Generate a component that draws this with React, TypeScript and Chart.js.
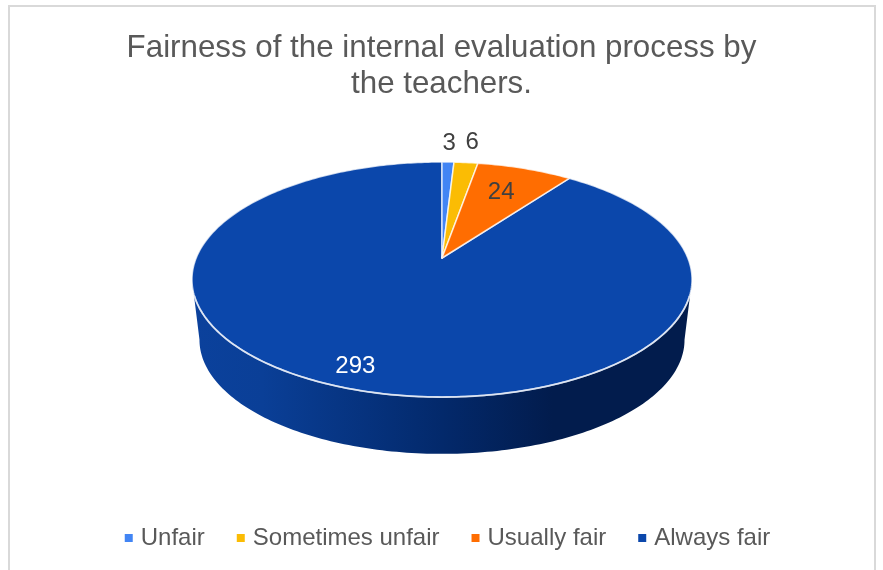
import React, { useEffect, useRef } from "react";
import { Chart, registerables } from "chart.js";

Chart.register(...registerables);

const categories = ["Unfair", "Sometimes unfair", "Usually fair", "Always fair"];
const responses = [3, 6, 24, 293];
const sliceColors = ["#4285f4", "#fbbc04", "#ff6d01", "#0b47ab"];
const labelColors = ["#404040", "#404040", "#404040", "#ffffff"];
const titleLines = ["Fairness of the internal evaluation process by", "the teachers."];

// Perspective pie geometry
const CX = 442;
const CY = 258;
const RX = 245.8;
const RY = 113.6;
const K = 0.183;
const WALL_SCALE = 0.97;
const WALL_DROP = 61;
const RIM_START = 0.32;
const labelRadius = [1.25, 1.27, 0.72, 0.85];
const labelShift = [[0, 1], [1, 1], [-3, 1], [-10, 1]];

function project(angle: number, r = 1) {
  const u = Math.cos(angle) * r;
  const v = Math.sin(angle) * r;
  const s = 1 / (1 - K * v);
  return { x: CX + s * RX * u, y: CY + s * RY * v };
}
function wallPoint(angle: number) {
  const p = project(angle);
  return { x: CX + (p.x - CX) * WALL_SCALE, y: CY + (p.y - CY) * WALL_SCALE + WALL_DROP };
}

const pie3d = {
  id: "pie3d",
  afterLayout(chart: any) {
    // legend sits a little right of the chart's centre line
    chart.legend.left += 8;
    chart.legend.right += 8;
  },
  beforeDraw(chart: any) {
    const { ctx } = chart;
    ctx.save();
    ctx.strokeStyle = "#d9d9d9";
    ctx.lineWidth = 2;
    ctx.beginPath();
    ctx.moveTo(9, 580);
    ctx.lineTo(9, 6);
    ctx.lineTo(875, 6);
    ctx.lineTo(875, 580);
    ctx.stroke();
    ctx.restore();
  },
  beforeDatasetDraw(chart: any, args: any) {
    const { ctx } = chart;
    const meta = args.meta;
    const a0 = Math.asin(K);
    const a1 = Math.PI - a0;
    const steps = 160;

    // extruded side wall
    ctx.save();
    const g = ctx.createLinearGradient(192, 0, 692, 0);
    g.addColorStop(0, "#0b419c");
    g.addColorStop(0.14, "#0a3f97");
    g.addColorStop(0.5, "#03296b");
    g.addColorStop(0.72, "#021c4d");
    g.addColorStop(1, "#021c4d");
    ctx.fillStyle = g;
    ctx.beginPath();
    for (let i = 0; i <= steps; i++) {
      const p = project(a0 + ((a1 - a0) * i) / steps);
      if (i === 0) ctx.moveTo(p.x, p.y);
      else ctx.lineTo(p.x, p.y);
    }
    for (let i = steps; i >= 0; i--) {
      const p = wallPoint(a0 + ((a1 - a0) * i) / steps);
      ctx.lineTo(p.x, p.y);
    }
    ctx.closePath();
    ctx.fill();

    // top face
    const order = [3, 0, 1, 2];
    order.forEach((idx) => {
      const arc = meta.data[idx];
      const { startAngle, endAngle } = arc.getProps(["startAngle", "endAngle"], true);
      ctx.beginPath();
      ctx.moveTo(CX, CY);
      const n = Math.max(8, Math.ceil((endAngle - startAngle) * 60));
      for (let i = 0; i <= n; i++) {
        const p = project(startAngle + ((endAngle - startAngle) * i) / n);
        ctx.lineTo(p.x, p.y);
      }
      ctx.closePath();
      ctx.fillStyle = arc.options.backgroundColor;
      ctx.fill();
      ctx.strokeStyle = "rgba(255,255,255,0.75)";
      ctx.lineWidth = 1.5;
      ctx.lineJoin = "round";
      ctx.stroke();
    });

    // brighter highlight on the front rim
    ctx.beginPath();
    for (let i = 0; i <= steps; i++) {
      const p = project(RIM_START + ((Math.PI - 2 * RIM_START) * i) / steps);
      if (i === 0) ctx.moveTo(p.x, p.y);
      else ctx.lineTo(p.x, p.y);
    }
    ctx.strokeStyle = "rgba(225,232,245,0.85)";
    ctx.lineWidth = 1.8;
    ctx.stroke();

    // value labels
    ctx.font = "24px 'Liberation Sans'";
    ctx.textAlign = "center";
    ctx.textBaseline = "middle";
    meta.data.forEach((arc: any, idx: number) => {
      const { startAngle, endAngle } = arc.getProps(["startAngle", "endAngle"], true);
      const p = project((startAngle + endAngle) / 2, labelRadius[idx]);
      ctx.fillStyle = labelColors[idx];
      ctx.fillText(String(responses[idx]), p.x + labelShift[idx][0], p.y + labelShift[idx][1]);
    });
    ctx.restore();
    return false;
  },
};

export default function App() {
  const ref = useRef<HTMLCanvasElement>(null);
  useEffect(() => {
    const chart = new Chart(ref.current as HTMLCanvasElement, {
      type: "pie",
      data: {
        labels: categories,
        datasets: [{ data: responses, backgroundColor: sliceColors, borderWidth: 0 }],
      },
      options: {
        responsive: false,
        animation: false,
        layout: { padding: { top: 18, bottom: 10 } },
        plugins: {
          title: {
            display: true,
            text: titleLines,
            color: "#595959",
            font: { family: "'Liberation Sans'", size: 31.3, weight: "normal", lineHeight: 1.15 },
            padding: { top: 12, bottom: 10 },
          },
          legend: {
            position: "bottom",
            labels: {
              color: "#595959",
              font: { family: "'Liberation Sans'", size: 24 },
              usePointStyle: true,
              pointStyle: "rect",
              boxWidth: 0.01,
              boxHeight: 8,
              padding: 36,
            },
          },
          tooltip: { enabled: false },
        },
      } as any,
      plugins: [pie3d as any],
    });
    return () => chart.destroy();
  }, []);
  return (
    <canvas
      ref={ref}
      width={883}
      height={570}
      style={{ position: "absolute", left: 0, top: 0, display: "block" }}
    />
  );
}
